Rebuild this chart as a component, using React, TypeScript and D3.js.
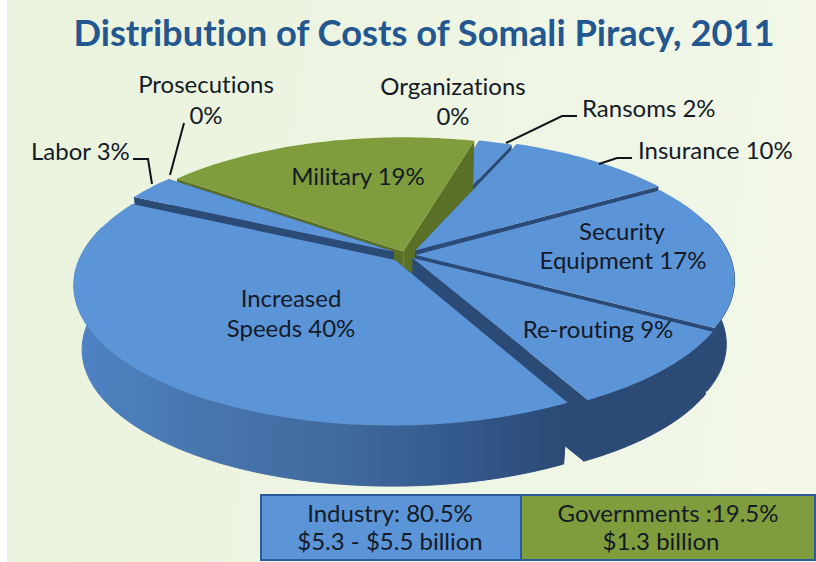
import React from "react";
import * as d3 from "d3";

// ---- data ----
const sliceNames = ["Ransoms", "Insurance", "Security Equipment", "Re-routing", "Increased Speeds", "Labor", "Prosecutions", "Military", "Organizations"];
const sliceValues = [2, 10, 17, 9, 40, 3, 0, 19, 0];
const sliceGroups = ["industry", "industry", "industry", "industry", "industry", "industry", "gov", "gov", "gov"];
const titleText = "Distribution of Costs of Somali Piracy, 2011";
const legendLines = [["Industry: 80.5%", "$5.3 - $5.5 billion"], ["Governments :19.5%", "$1.3 billion"]];

// ---- layout / style ----
const W = 816, H = 562;
const CX = 406, CY = 255, RX = 314, RY = 135, K = 0.173, DEPTH = 65, SHRINK = 0.025;
const START = (15.3 * Math.PI) / 180;
const FONT = "Lato, 'Open Sans', sans-serif";
const TOP_BLUE = "#5C94D8", TOP_GREEN = "#7F9D3C", WALL_BLUE = "#2C4A76", WALL_GREEN = "#5A7026", TEXT = "#141B26";
const explodeByName: Record<string, number> = {
  Ransoms: 0.03, Insurance: 0.045, "Security Equipment": 0.03, "Re-routing": 0.03,
  "Increased Speeds": 0.05, Labor: 0.045, Military: 0.028,
};

function project(u: number, v: number, z: number): [number, number] {
  const w = 1 - K * v;
  const s = 1 - SHRINK * z;
  return [CX + (RX * u * s) / w, CY + (RY * v * s) / w + z * DEPTH];
}

const pieGen = d3.pie<number>().sort(null).startAngle(START).endAngle(START + 2 * Math.PI);
const arcs = pieGen(sliceValues);
const line = d3.line<[number, number]>();

type Slice = { name: string; group: string; a0: number; a1: number; ex: number; ox: number; oy: number };
const slices: Slice[] = arcs
  .map((a, i) => {
    const ex = explodeByName[sliceNames[i]] ?? 0;
    const mid = (a.startAngle + a.endAngle) / 2;
    return { name: sliceNames[i], group: sliceGroups[i], a0: a.startAngle, a1: a.endAngle, ex, ox: ex * Math.sin(mid), oy: -ex * Math.cos(mid) };
  })
  .filter((s) => s.a1 > s.a0);

function rim(s: Slice, z: number, from = s.a0, to = s.a1): [number, number][] {
  const n = Math.max(2, Math.ceil((to - from) / 0.02));
  return d3.range(n + 1).map((i) => {
    const t = from + ((to - from) * i) / n;
    return project(s.ox + Math.sin(t), s.oy - Math.cos(t), z);
  });
}
const apex = (s: Slice, z: number) => project(s.ox, s.oy, z);
const closed = (pts: [number, number][]) => (line(pts) ?? "") + "Z";

function visibleWall(s: Slice): [number, number][] | null {
  // outer wall only shows on the part of the rim facing the viewer
  const lo = Math.max(s.a0, Math.PI / 2 - 0.25);
  const hi = Math.min(s.a1, (3 * Math.PI) / 2 + 0.25);
  if (hi <= lo) return null;
  const top = rim(s, 0, lo, hi);
  const bot = rim(s, 1, lo, hi).reverse();
  return [...top, ...bot];
}

// back to front; the big front slice overlaps its neighbours, so it goes last
const depthKey = (s: Slice) => (s.name === "Increased Speeds" ? 2 : -Math.cos((s.a0 + s.a1) / 2));
const order = [...slices].sort((a, b) => depthKey(a) - depthKey(b));

type Lbl = { t: string; x: number; y: number; a?: "start" | "middle" };
const labels: Lbl[] = [
  { t: "Prosecutions", x: 206, y: 93 },
  { t: "0%", x: 206, y: 124 },
  { t: "Organizations", x: 453, y: 95 },
  { t: "0%", x: 453, y: 125 },
  { t: "Ransoms 2%", x: 582, y: 117, a: "start" },
  { t: "Insurance 10%", x: 638, y: 159, a: "start" },
  { t: "Labor 3%", x: 31, y: 160, a: "start" },
  { t: "Military 19%", x: 358, y: 185 },
  { t: "Security", x: 622, y: 240 },
  { t: "Equipment 17%", x: 623, y: 269 },
  { t: "Increased", x: 291, y: 307 },
  { t: "Speeds 40%", x: 291, y: 337 },
  { t: "Re-routing 9%", x: 598, y: 338 },
];
const leaders: [number, number][][] = [
  [[133, 159], [148, 159], [152, 184]],
  [[184, 123], [170, 175]],
  [[577, 116], [562, 116], [506, 143]],
  [[632, 158], [617, 158], [599, 164]],
];
const LBL = 24;
const noLig: React.CSSProperties = { fontVariantLigatures: "none" };

export default function App() {
  return (
    <svg width={W} height={H} viewBox={`0 0 ${W} ${H}`} style={{ position: "absolute", left: 0, top: 0 }}>
      <defs>
        <linearGradient id="bg" x1="0" y1="0.5" x2="1" y2="0.6">
          <stop offset="0" stopColor="#EAF3DD" />
          <stop offset="0.5" stopColor="#EEF5E3" />
          <stop offset="1" stopColor="#F2F7E8" />
        </linearGradient>
        <linearGradient id="wall" gradientUnits="userSpaceOnUse" x1="70" y1="0" x2="570" y2="0">
          <stop offset="0" stopColor="#4F83C6" />
          <stop offset="0.25" stopColor="#4777AF" />
          <stop offset="0.55" stopColor="#40699D" />
          <stop offset="0.8" stopColor="#33578A" />
          <stop offset="1" stopColor="#2B4973" />
        </linearGradient>
      </defs>
      <rect width={W} height={H} fill="#FFFFFF" />
      <rect x={7} width={W - 7} height={H} fill="url(#bg)" />

      {order.map((s) => {
        const gov = s.group === "gov";
        const wallFill = gov ? WALL_GREEN : WALL_BLUE;
        const wall = visibleWall(s);
        const a = apex(s, 0), b = apex(s, 1);
        const r0 = rim(s, 0), r1 = rim(s, 1);
        const outer = s.name === "Increased Speeds" ? "url(#wall)" : wallFill;
        return (
          <g key={s.name}>
            <path d={closed([a, r0[0], r1[0], b])} fill={wallFill} />
            <path d={closed([a, r0[r0.length - 1], r1[r1.length - 1], b])} fill={wallFill} />
            {wall && <path d={closed(wall)} fill={outer} stroke={outer} strokeWidth={1} />}
            <path d={closed([a, ...r0])} fill={gov ? TOP_GREEN : TOP_BLUE} />
          </g>
        );
      })}

      {leaders.map((pts, i) => (
        <path key={i} d={line(pts) ?? ""} fill="none" stroke="#10151C" strokeWidth={2} />
      ))}

      <text x={424} y={46} textAnchor="middle" fontFamily={FONT} fontWeight={700} fontSize={36.3} fill="#23578F" style={noLig}>
        {titleText}
      </text>

      {labels.map((l, i) => (
        <text key={i} x={l.x} y={l.y} textAnchor={l.a ?? "middle"} fontFamily={FONT} fontSize={LBL} fill={TEXT} style={noLig}>
          {l.t}
        </text>
      ))}

      <rect x={261} y={495} width={260} height={65} fill="#5C94D8" stroke="#2A5C99" strokeWidth={2} />
      <rect x={521} y={495} width={294} height={65} fill="#7F9D3C" stroke="#2A5C99" strokeWidth={2} />
      <text x={390} y={522} textAnchor="middle" fontFamily={FONT} fontSize={LBL} fill={TEXT} style={noLig}>{legendLines[0][0]}</text>
      <text x={390} y={550} textAnchor="middle" fontFamily={FONT} fontSize={LBL} fill={TEXT} style={noLig}>{legendLines[0][1]}</text>
      <text x={668} y={522} textAnchor="middle" fontFamily={FONT} fontSize={LBL} fill={TEXT} style={noLig}>{legendLines[1][0]}</text>
      <text x={661} y={550} textAnchor="middle" fontFamily={FONT} fontSize={LBL} fill={TEXT} style={noLig}>{legendLines[1][1]}</text>
    </svg>
  );
}
